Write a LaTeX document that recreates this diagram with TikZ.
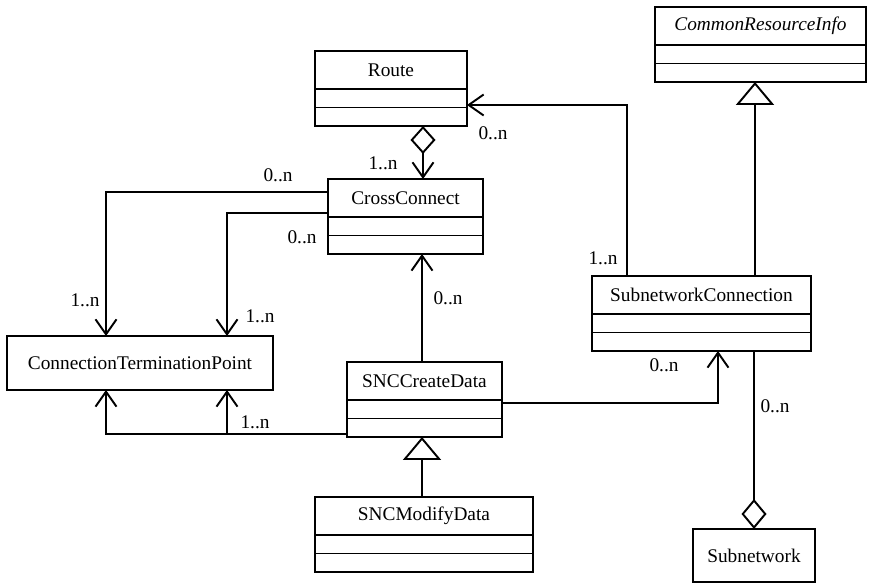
\documentclass[tikz,border=0pt]{standalone}
\usepackage{fontspec}
\setmainfont{Liberation Serif}
\usetikzlibrary{positioning,arrows.meta}

\tikzstyle{cname} = [draw, line width=1.1pt, outer sep=0pt, inner sep=0pt, minimum height=0.76cm, anchor=north west, font=\fontsize{11}{13}\selectfont]
\tikzstyle{cpart} = [draw, line width=1.1pt, outer sep=0pt, inner sep=0pt, minimum height=0.37cm]
\tikzstyle{mult} = [inner sep=0pt, font=\fontsize{11}{13}\selectfont]
\tikzstyle{link} = [line width=1.1pt]
\tikzstyle{nav} = [link, -{Straight Barb[length=0.3cm,width=0.42cm]}]
\tikzstyle{agg} = [link, {Diamond[open,length=0.56cm,width=0.5cm]}-{Straight Barb[length=0.3cm,width=0.42cm]}]
\tikzstyle{comp} = [link, {Diamond[open,length=0.6cm,width=0.5cm]}-]
\tikzstyle{gen} = [link, -{Triangle[open,length=0.46cm,width=0.76cm]}]

\begin{document}
\begin{tikzpicture}[x=0.02cm, y=-0.02cm]
  \useasboundingbox (0,0) rectangle (869,584);

  % classes
  \node[cname, minimum width=3.04cm] (route) at (315,51) {Route};
  \node[cpart, minimum width=3.04cm, below=0pt of route] (route-a) {};
  \node[cpart, minimum width=3.04cm, below=0pt of route-a] (route-b) {};

  \node[cname, minimum width=4.22cm] (cri) at (655,7) {\itshape CommonResourceInfo};
  \node[cpart, minimum width=4.22cm, below=0pt of cri] (cri-a) {};
  \node[cpart, minimum width=4.22cm, below=0pt of cri-a] (cri-b) {};

  \node[cname, minimum width=3.1cm] (cc) at (328,179) {CrossConnect};
  \node[cpart, minimum width=3.1cm, below=0pt of cc] (cc-a) {};
  \node[cpart, minimum width=3.1cm, below=0pt of cc-a] (cc-b) {};

  \node[cname, minimum width=5.32cm, minimum height=1.08cm] (ctp) at (7,336) {ConnectionTerminationPoint};

  \node[cname, minimum width=3.1cm] (scd) at (347,362) {SNCCreateData};
  \node[cpart, minimum width=3.1cm, below=0pt of scd] (scd-a) {};
  \node[cpart, minimum width=3.1cm, below=0pt of scd-a] (scd-b) {};

  \node[cname, minimum width=4.38cm] (snc) at (592,276) {SubnetworkConnection};
  \node[cpart, minimum width=4.38cm, below=0pt of snc] (snc-a) {};
  \node[cpart, minimum width=4.38cm, below=0pt of snc-a] (snc-b) {};

  \node[cname, minimum width=4.36cm] (smd) at (315,497) {SNCModifyData};
  \node[cpart, minimum width=4.36cm, below=0pt of smd] (smd-a) {};
  \node[cpart, minimum width=4.36cm, below=0pt of smd-a] (smd-b) {};

  \node[cname, minimum width=2.44cm, minimum height=1.06cm] (sub) at (693,529) {Subnetwork};

  % where the links run
  \coordinate (aggx) at (423,0);
  \coordinate (upy) at (0,105);
  \coordinate (sncx) at (627,0);
  \coordinate (genx) at (755,0);
  \coordinate (ctpl) at (106,0);
  \coordinate (ctpr) at (227,0);
  \coordinate (ccy1) at (0,192);
  \coordinate (ccy2) at (0,213);
  \coordinate (crx) at (422,0);
  \coordinate (crl) at (0,434);
  \coordinate (crr) at (0,403);
  \coordinate (sncb) at (718,0);
  \coordinate (subx) at (754,0);

  % links
  \draw[agg] (route-b.south -| aggx) -- (cc.north -| aggx);
  \draw[nav] (snc.north -| sncx) |- (route-a.east |- upy);
  \draw[gen] (snc.north -| genx) -- (cri-b.south -| genx);
  \draw[nav] (cc.west |- ccy1) -| (ctp.north -| ctpl);
  \draw[nav] (cc.west |- ccy2) -| (ctp.north -| ctpr);
  \draw[nav] (scd.north -| crx) -- (cc-b.south -| crx);
  \draw[nav] (scd-b.west |- crl) -| (ctp.south -| ctpl);
  \draw[nav] (crl -| ctpr) -- (ctp.south -| ctpr);
  \draw[nav] (scd-a.east |- crr) -| (snc-b.south -| sncb);
  \draw[gen] (smd.north -| crx) -- (scd-b.south -| crx);
  \draw[comp] (sub.north -| subx) -- (snc-b.south -| subx);

  % multiplicities
  \node[mult] (m-rc) at (383,163) {1..n};
  \node[mult] (m-rr) at (493,133) {0..n};
  \node[mult] (m-sr) at (603,258) {1..n};
  \node[mult] (m-c1) at (278,175) {0..n};
  \node[mult] (m-t1) at (85,300) {1..n};
  \node[mult] (m-c2) at (302,237) {0..n};
  \node[mult] (m-t2) at (260,316) {1..n};
  \node[mult] (m-cd) at (448,298) {0..n};
  \node[mult] (m-t3) at (255,422) {1..n};
  \node[mult] (m-sn) at (664,365) {0..n};
  \node[mult] (m-sb) at (775,406) {0..n};
\end{tikzpicture}
\end{document}
